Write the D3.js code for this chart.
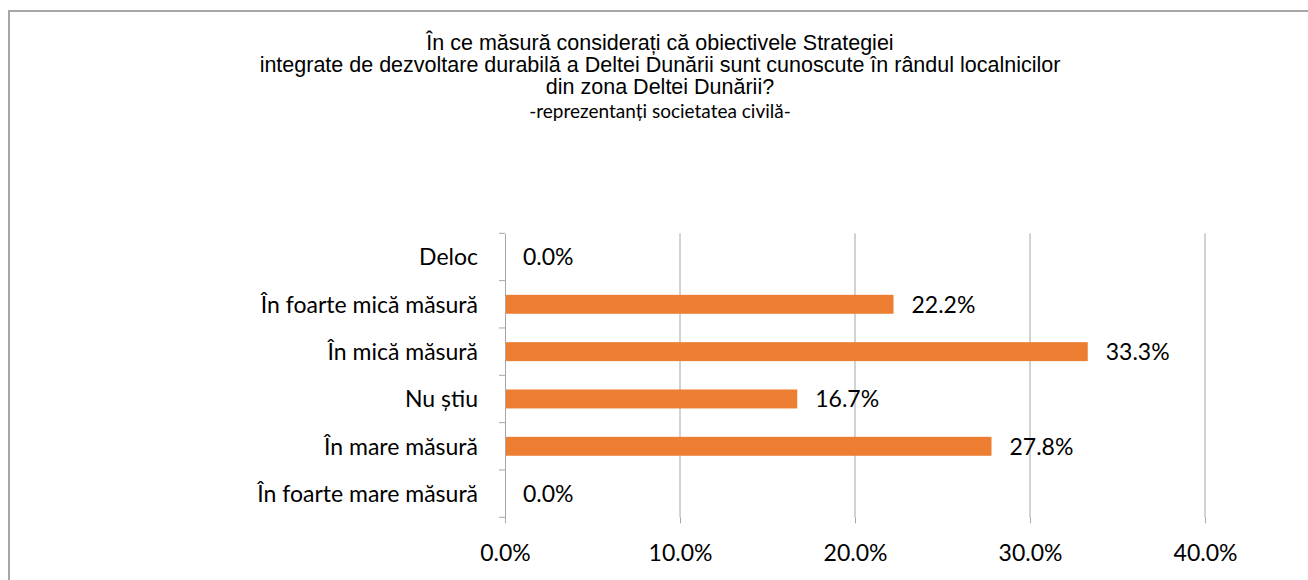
<!DOCTYPE html>
<html><head><meta charset="utf-8">
<script src="https://cdn.jsdelivr.net/npm/d3@7"></script>
<style>body{margin:0;background:#fff}</style>
</head><body>
<script>
const categories = ["Deloc","În foarte mică măsură","În mică măsură","Nu știu","În mare măsură","În foarte mare măsură"];
const values = [0.0, 22.2, 33.3, 16.7, 27.8, 0.0];
const xTicks = [0, 10, 20, 30, 40];
const titleLines = ["În ce măsură considerați că obiectivele Strategiei","integrate de dezvoltare durabilă a Deltei Dunării sunt cunoscute în rândul localnicilor","din zona Deltei Dunării?"];
const subtitle = "-reprezentanți societatea civilă-";

const W = 1308, H = 580;
const svg = d3.select("body").append("svg").attr("width", W).attr("height", H);
svg.append("rect").attr("x",9).attr("y",11).attr("width",1320).attr("height",600)
  .attr("fill","#fff").attr("stroke","#a6a6a6").attr("stroke-width",2);

const tf = "'Liberation Sans', Arial, sans-serif";
const cf = "Lato, 'Open Sans', sans-serif";
const title = svg.append("g");
titleLines.forEach((t,i)=>{
  title.append("text").attr("x",660).attr("y",50+i*22).attr("text-anchor","middle")
    .attr("font-family",tf).attr("font-size",21.5).attr("fill","#000").text(t);
});
title.append("text").attr("x",660).attr("y",118).attr("text-anchor","middle")
  .attr("font-family",cf).attr("font-size",19).attr("fill","#000").text(subtitle);

const x = d3.scaleLinear().domain([0,40]).range([505,1205]);
const y = d3.scaleBand().domain(categories).range([233.3,517.3]).paddingInner(0.6).paddingOuter(0.3);
const yt = d3.scaleBand().domain(categories).range([233.3,517.3]);

// gridlines
svg.append("g").selectAll("line").data(xTicks.slice(1)).join("line")
  .attr("x1",d=>x(d)).attr("x2",d=>x(d)).attr("y1",233.3).attr("y2",517.3)
  .attr("stroke","#a6a6a6").attr("stroke-width",1);

// x axis
const xa = svg.append("g").attr("transform","translate(0,517.3)")
  .call(d3.axisBottom(x).tickValues(xTicks).tickFormat(d=>d.toFixed(1)+"%").tickSize(6).tickPadding(21));
xa.select(".domain").remove();
xa.selectAll("line").attr("stroke","#a6a6a6");
xa.selectAll("text").attr("font-family",cf).attr("font-size",23).attr("fill","#000");

// y axis
const ya = svg.append("g").attr("transform","translate(505,0)")
  .call(d3.axisLeft(yt).tickSize(0).tickPadding(27));
ya.select(".domain").attr("stroke","#a6a6a6");
ya.selectAll("text").attr("font-family",cf).attr("font-size",23).attr("fill","#000").attr("dy","0.37em");
svg.append("g").selectAll("line").data(d3.range(categories.length+1)).join("line")
  .attr("x1",499).attr("x2",505)
  .attr("y1",i=>233.3+i*yt.step()).attr("y2",i=>233.3+i*yt.step())
  .attr("stroke","#a6a6a6");

// bars
svg.append("g").selectAll("rect").data(values).join("rect")
  .attr("x",x(0)+1).attr("y",(d,i)=>y(categories[i]))
  .attr("width",d=>Math.max(0,x(d)-x(0)-1)).attr("height",y.bandwidth())
  .attr("fill","#ED7D31");

svg.append("g").selectAll("text").data(values).join("text")
  .attr("x",d=>x(d)+18).attr("y",(d,i)=>yt(categories[i])+yt.bandwidth()/2)
  .attr("dy","0.37em").attr("font-family",cf).attr("font-size",23).attr("fill","#000")
  .text(d=>d.toFixed(1)+"%");
</script>
</body></html>
